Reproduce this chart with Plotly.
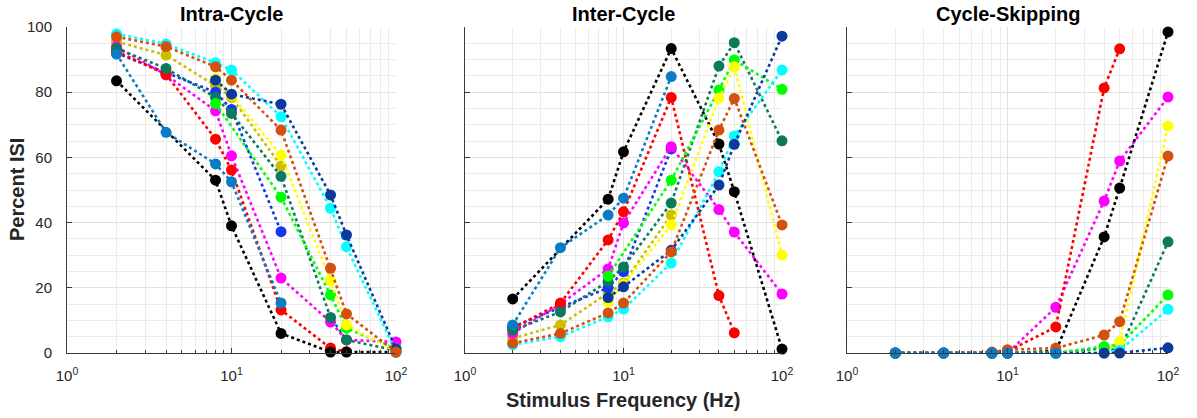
import plotly.graph_objects as go

panel_titles = ["Intra-Cycle", "Inter-Cycle", "Cycle-Skipping"]
x_title = "Stimulus Frequency (Hz)"
y_title = "Percent ISI"
x_tick_vals = [1, 10, 100]
x_tick_text = ["10<sup>0</sup>", "10<sup>1</sup>", "10<sup>2</sup>"]
y_tick_vals = [0, 20, 40, 60, 80, 100]

# ---- per-series data (frequency in Hz, percent ISI in each panel) ----
black_freq = [2, 8, 10, 20, 40, 50, 100]
black_intra = [83.5, 53, 39, 6, 0.3, 0.3, 0.3]
black_inter = [16.6, 47.2, 61.7, 93.4, 64.1, 49.5, 1.2]
black_skip = [0, 0, 0, 0.6, 35.6, 50.6, 98.5]

olive_freq = [2, 4, 8, 10, 20]
olive_intra = [95.5, 91.4, 82, 78.4, 57.4]
olive_inter = [4.5, 8.6, 18.4, 21.5, 42.3]
olive_skip = [0, 0, 0, 0, 0]

blue_freq = [2, 4, 8, 10, 20]
blue_intra = [92, 86, 80, 74.7, 37.2]
blue_inter = [8, 14, 20, 25, 62.6]
blue_skip = [0, 0, 0, 0, 0]

magenta_freq = [2, 4, 8, 10, 20, 40, 50, 100]
magenta_intra = [94, 85.3, 74.3, 60.5, 23, 9.5, 4, 3.4]
magenta_inter = [6, 15, 25.8, 39.9, 63.3, 44, 37.1, 18.1]
magenta_skip = [0, 0, 0, 0, 14, 46.6, 58.9, 78.5]

red_freq = [2, 4, 8, 10, 20, 40, 50]
red_intra = [92.5, 85.5, 65.6, 56.1, 13.2, 1.5, 0.4]
red_inter = [7.5, 15.3, 34.7, 43.3, 78.4, 17.6, 6.2]
red_skip = [0, 0, 0, 0.5, 8, 81.3, 93.3]

darkgreen_freq = [2, 4, 8, 10, 20, 40, 50, 100]
darkgreen_intra = [93.4, 87.3, 78.4, 73.5, 54.2, 10.9, 4, 0.8]
darkgreen_inter = [7, 12.6, 22, 26.4, 46, 88, 95.2, 65.1]
darkgreen_skip = [0, 0, 0, 0, 0, 1.5, 0.8, 34.1]

green_freq = [8, 20, 40, 50, 100]
green_intra = [76.5, 47.8, 17.8, 7.6, 1.3]
green_inter = [23.6, 53, 80.7, 89.9, 80.9]
green_skip = [0, 0, 2, 2.5, 17.8]

yellow_freq = [8, 10, 20, 40, 50, 100]
yellow_intra = [84.3, 79, 60.7, 22.2, 8.6, 0.4]
yellow_inter = [15.7, 21, 39.3, 78.2, 87.8, 30]
yellow_skip = [0, 0, 0, 0, 3.5, 69.6]

orange_freq = [2, 4, 8, 10, 20, 40, 50, 100]
orange_intra = [97, 94, 87.8, 83.7, 68.4, 26, 12, 0.3]
orange_inter = [3, 6, 12.3, 15.3, 31, 68.4, 78.1, 39.3]
orange_skip = [0, 0, 0.3, 1, 1.5, 5.5, 9.6, 60.4]

cyan_freq = [2, 4, 8, 10, 20, 40, 50, 100]
cyan_intra = [97.9, 94.8, 89, 86.8, 72.5, 44.4, 32.6, 0.3]
cyan_inter = [2.5, 5, 11.1, 13.5, 27.6, 55.6, 66.6, 86.8]
cyan_skip = [0, 0, 0, 0, 0, 0, 0.8, 13.4]

darkblue_freq = [8, 10, 20, 40, 50, 100]
darkblue_intra = [83.7, 79.4, 76.3, 48.5, 36.2, 1.2]
darkblue_inter = [17, 20.3, 31.5, 51.5, 64, 97.2]
darkblue_skip = [0, 0, 0, 0, 0, 1.6]

lightblue_freq = [2, 4, 8, 10, 20]
lightblue_intra = [91.7, 67.7, 58, 52.5, 15.3]
lightblue_inter = [8.6, 32.3, 42.3, 47.5, 84.8]
lightblue_skip = [0, 0, 0, 0, 0]

series = [
    ("#CDBE00", olive_freq, olive_intra, olive_inter, olive_skip),
    ("#1238F0", blue_freq, blue_intra, blue_inter, blue_skip),
    ("#FF00FF", magenta_freq, magenta_intra, magenta_inter, magenta_skip),
    ("#FF0000", red_freq, red_intra, red_inter, red_skip),
    ("#000000", black_freq, black_intra, black_inter, black_skip),
    ("#0B7A5C", darkgreen_freq, darkgreen_intra, darkgreen_inter, darkgreen_skip),
    ("#00FF00", green_freq, green_intra, green_inter, green_skip),
    ("#FFFF00", yellow_freq, yellow_intra, yellow_inter, yellow_skip),
    ("#00FFFF", cyan_freq, cyan_intra, cyan_inter, cyan_skip),
    ("#0A3A9E", darkblue_freq, darkblue_intra, darkblue_inter, darkblue_skip),
    ("#D4500F", orange_freq, orange_intra, orange_inter, orange_skip),
    ("#0A7CC4", lightblue_freq, lightblue_intra, lightblue_inter, lightblue_skip),
]

W, H = 1197, 418
ML, MR, MT, MB = 67, 29, 27, 65
PW = W - ML - MR
domains = [
    [0.0, (396 - ML) / PW],
    [(465 - ML) / PW, (782 - ML) / PW],
    [(847 - ML) / PW, 1.0],
]

fig = go.Figure()
for color, freq, intra, inter, skip in series:
    for k, vals in enumerate([intra, inter, skip]):
        fig.add_trace(go.Scatter(
            x=freq, y=vals, mode="lines+markers",
            xaxis="x" if k == 0 else f"x{k+1}",
            yaxis="y" if k == 0 else f"y{k+1}",
            line=dict(color=color, width=2.6, dash="dot"),
            marker=dict(color=color, size=11, line=dict(width=0)),
            cliponaxis=False,
            showlegend=False, hoverinfo="skip",
        ))

font_family = "Liberation Sans, Arial, Helvetica, sans-serif"
axis_color = "#3a3a3a"
grid_major = "#e0e0e0"
grid_minor = "#ebebeb"

layout = dict(
    width=W, height=H,
    margin=dict(l=ML, r=MR, t=MT, b=MB),
    paper_bgcolor="white", plot_bgcolor="white",
    font=dict(family=font_family, size=15, color="#262626"),
    showlegend=False,
)
for k in range(3):
    xa = "xaxis" if k == 0 else f"xaxis{k+1}"
    ya = "yaxis" if k == 0 else f"yaxis{k+1}"
    xr = "y" if k == 0 else f"y{k+1}"
    yr = "x" if k == 0 else f"x{k+1}"
    layout[xa] = dict(
        type="log", range=[0, 2], domain=domains[k], anchor=xr,
        tickvals=x_tick_vals, ticktext=x_tick_text,
        showline=True, linecolor=axis_color, linewidth=1,
        ticks="inside", ticklen=5, tickcolor=axis_color,
        showgrid=True, gridcolor=grid_major, gridwidth=1,
        minor=dict(dtick="D1", showgrid=True, gridcolor=grid_minor,
                   ticks="inside", ticklen=3, tickcolor=axis_color),
        zeroline=False, ticklabelstandoff=9,
        tickfont=dict(size=15, color="#262626"),
    )
    layout[ya] = dict(
        range=[0, 100], domain=[0, 1], anchor=yr,
        tickvals=y_tick_vals, showticklabels=(k == 0),
        showline=True, linecolor=axis_color, linewidth=1,
        ticks="inside", ticklen=5, tickcolor=axis_color,
        showgrid=True, gridcolor=grid_major, gridwidth=1,
        minor=dict(dtick=5, showgrid=True, gridcolor=grid_minor),
        zeroline=False, ticklabelstandoff=11,
        tickfont=dict(size=15, color="#262626"),
    )

annotations = []
for k, t in enumerate(panel_titles):
    annotations.append(dict(
        text=f"<b>{t}</b>", x=sum(domains[k]) / 2, y=(353 - 14) / 326,
        xref="paper", yref="paper", showarrow=False,
        font=dict(size=20, color="#000000", family=font_family),
        xanchor="center", yanchor="middle",
    ))
annotations.append(dict(
    text=f"<b>{x_title}</b>", x=(623 - ML) / PW, y=(353 - 400) / 326,
    xref="paper", yref="paper", showarrow=False,
    font=dict(size=20, color="#262626", family=font_family),
    xanchor="center", yanchor="middle",
))
annotations.append(dict(
    text=f"<b>{y_title}</b>", x=(17 - ML) / PW, y=0.5, textangle=-90,
    xref="paper", yref="paper", showarrow=False,
    font=dict(size=20, color="#262626", family=font_family),
    xanchor="center", yanchor="middle",
))
layout["annotations"] = annotations

fig.update_layout(**layout)
fig.write_html("out.html")
